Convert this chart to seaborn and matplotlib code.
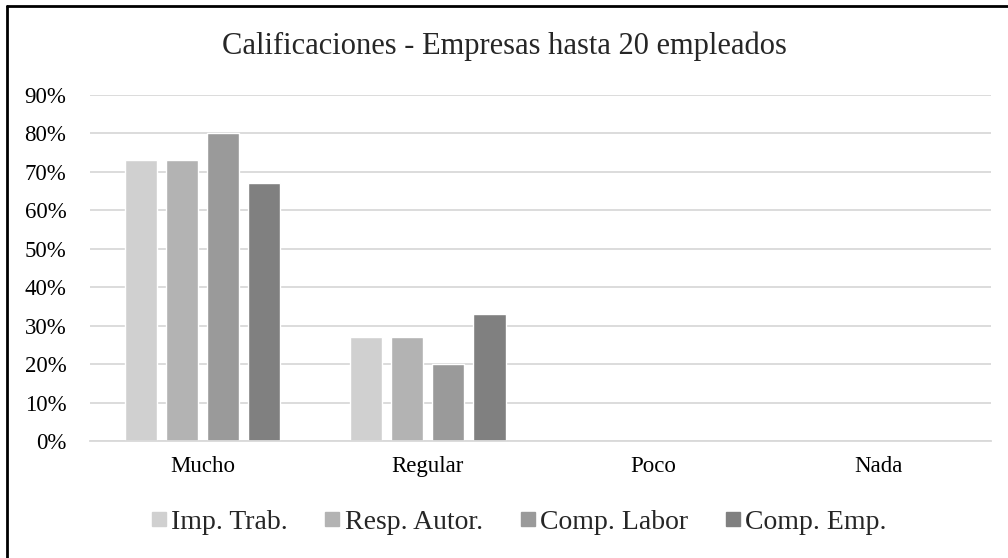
import matplotlib
matplotlib.use("Agg")
import matplotlib.pyplot as plt
from matplotlib.lines import Line2D
from matplotlib.ticker import PercentFormatter, FixedLocator
import seaborn as sns
import pandas as pd

categories = ["Mucho", "Regular", "Poco", "Nada"]
series_names = ["Imp. Trab.", "Resp. Autor.", "Comp. Labor", "Comp. Emp."]
imp_trab = [0.73, 0.27, 0.0, 0.0]
resp_autor = [0.73, 0.27, 0.0, 0.0]
comp_labor = [0.80, 0.20, 0.0, 0.0]
comp_emp = [0.67, 0.33, 0.0, 0.0]
y_ticks = [0.0, 0.1, 0.2, 0.3, 0.4, 0.5, 0.6, 0.7, 0.8, 0.9]
title = "Calificaciones - Empresas hasta 20 empleados"

colors = ["#d0d0d0", "#b3b3b3", "#9a9a9a", "#808080"]
grid_color = "#d9d9d9"

rows = []
for name, vals in zip(series_names, [imp_trab, resp_autor, comp_labor, comp_emp]):
    for cat, v in zip(categories, vals):
        rows.append({"Categoria": cat, "Serie": name, "Valor": v})
df = pd.DataFrame(rows)

sns.set_style("white")
plt.rcParams["font.family"] = ["Liberation Serif", "DejaVu Serif"]

fig = plt.figure(figsize=(10.08, 5.58), dpi=100)
ax = fig.add_axes([0.0893, 0.2097, 0.8938, 0.6200])

sns.barplot(data=df, x="Categoria", y="Valor", hue="Serie",
            order=categories, hue_order=series_names,
            palette=colors, width=0.73, gap=0.22, saturation=1,
            legend=False, ax=ax)

ax.set_ylim(0, 0.9)
ax.set_xlim(-0.5, 3.5)
ax.yaxis.set_major_locator(FixedLocator(y_ticks))
ax.yaxis.set_major_formatter(PercentFormatter(1.0, decimals=0))
ax.grid(axis="y", color=grid_color, linewidth=1.3, zorder=0)
ax.set_axisbelow(True)
for s in ["top", "right", "left"]:
    ax.spines[s].set_visible(False)
ax.spines["bottom"].set_color(grid_color)
ax.spines["bottom"].set_linewidth(1.3)
ax.set_xlabel("")
ax.set_ylabel("")
ax.tick_params(axis="y", length=0, labelsize=16.5, pad=17, labelcolor="black")
ax.tick_params(axis="x", which="major", length=0, labelsize=16.5, pad=11, labelcolor="black")
ax.xaxis.set_minor_locator(FixedLocator([-0.5, 0.5, 1.5, 2.5, 3.5]))
ax.tick_params(axis="x", which="minor", length=6, color=grid_color, width=1.3)

fig.text(0.5, 0.918, title, ha="center", va="center", fontsize=22)

handles = [Line2D([0], [0], marker="s", linestyle="none", markersize=10.5,
                  markerfacecolor=c, markeredgecolor=c) for c in colors]
fig.legend(handles, series_names, loc="center", bbox_to_anchor=(0.513, 0.064),
           ncol=4, frameon=False, fontsize=20, handletextpad=0.05,
           columnspacing=1.2, handlelength=0.8)

# outer frame lines along the top and left edges
fig.add_artist(Line2D([0.0069, 0.0069], [0, 0.989], transform=fig.transFigure,
                      color="black", linewidth=2))
fig.add_artist(Line2D([0.0069, 1.0], [0.989, 0.989], transform=fig.transFigure,
                      color="black", linewidth=2))

fig.savefig("out.png", dpi=100)
